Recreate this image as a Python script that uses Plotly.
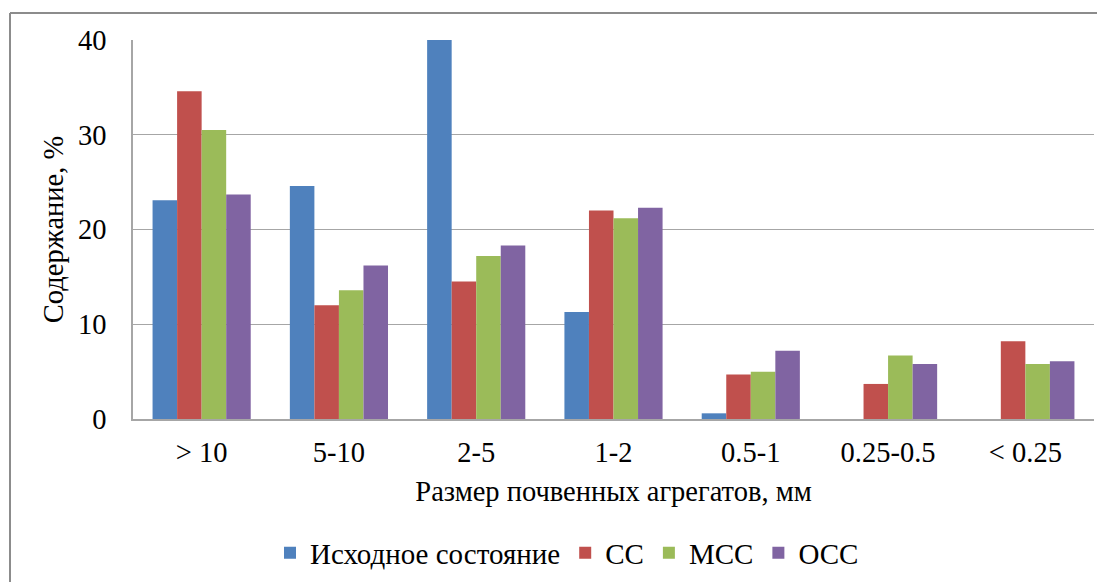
import plotly.graph_objects as go

categories = ["> 10", "5-10", "2-5", "1-2", "0.5-1", "0.25-0.5", "< 0.25"]
series_names = ["Исходное состояние", "СС", "МСС", "ОСС"]
initial = [23.1, 24.6, 40.0, 11.3, 0.6, 0.0, 0.0]
ss = [34.6, 12.0, 14.5, 22.0, 4.7, 3.7, 8.2]
mss = [30.5, 13.6, 17.2, 21.2, 5.0, 6.7, 5.8]
oss = [23.7, 16.2, 18.3, 22.3, 7.2, 5.8, 6.1]
colors = ["#4F81BD", "#C0504D", "#9BBB59", "#8064A2"]
y_ticks = [0, 10, 20, 30, 40]

font_family = "Liberation Serif"
FS = 28.5
FL = 29

L, R, T, B = 125, 19, 32, 171
W, H = 1105, 582
pw = W - L - R
ph = H - T - B

fig = go.Figure()
for name, vals, col in zip(series_names, [initial, ss, mss, oss], colors):
    fig.add_trace(go.Bar(x=categories, y=vals, name=name, marker_color=col,
                         marker_line_width=0))

fx = (2 - L) / pw
fy = 1.0 + (T - 5) / ph

fig.update_layout(
    width=W, height=H,
    margin=dict(l=L, r=R, t=T, b=B),
    paper_bgcolor="white", plot_bgcolor="white",
    barmode="group", bargap=0.285, bargroupgap=0,
    font=dict(family=font_family, size=FS, color="black"),
    showlegend=True,
    legend=dict(orientation="h", x=(559 - L) / pw, xanchor="center",
                y=-(545 - (T + ph)) / ph, yanchor="middle",
                font=dict(family=font_family, size=FL), itemwidth=30,
                traceorder="normal"),
    xaxis=dict(
        showline=True, linecolor="#A6A6A6", linewidth=1.5,
        ticks="", tickfont=dict(size=FS), showgrid=False,
        ticklabelstandoff=7,
        title=dict(text="Размер почвенных агрегатов, мм", font=dict(size=FS), standoff=14),
    ),
    yaxis=dict(
        range=[0, 40], tickvals=y_ticks, showgrid=True, gridcolor="#A6A6A6", gridwidth=1.2,
        showline=True, linecolor="#A6A6A6", linewidth=1.5, ticks="",
        tickfont=dict(size=FS), ticklabelstandoff=19, zeroline=False,
        title=dict(text="Содержание, %", font=dict(size=FS), standoff=6),
    ),
    shapes=[
        dict(type="line", xref="paper", yref="paper", x0=fx, x1=1.2, y0=fy, y1=fy,
             line=dict(color="#8C8C8C", width=2)),
        dict(type="line", xref="paper", yref="paper", x0=fx, x1=fx, y0=fy, y1=-1.0,
             line=dict(color="#8C8C8C", width=2)),
    ],
)

fig.write_html("out.html")
